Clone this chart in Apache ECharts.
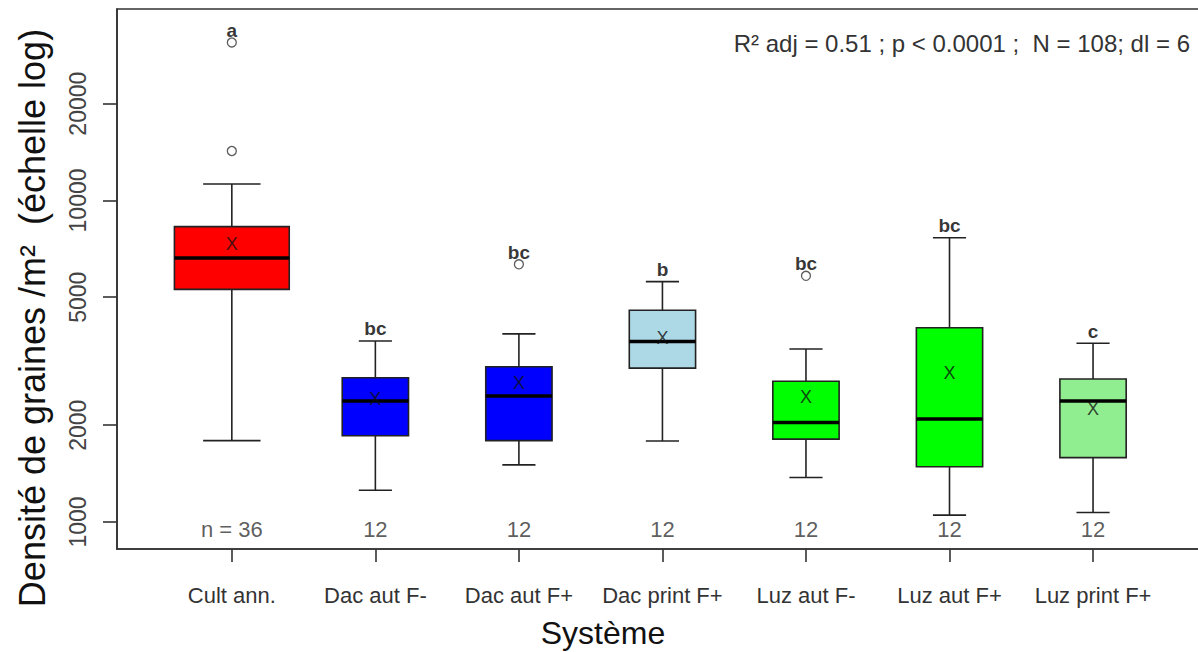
<!DOCTYPE html>
<html>
<head>
<meta charset="utf-8">
<title>Densité de graines</title>
<script src="https://cdn.jsdelivr.net/npm/echarts@6/dist/echarts.min.js"></script>
<style>
  html, body { margin: 0; padding: 0; background: #fff; }
  #chart { width: 1198px; height: 652px; }
</style>
</head>
<body>
<div id="chart"></div>
<script>
// categories and box statistics (seeds / m²)
const categories = ['Cult ann.', 'Dac aut F-', 'Dac aut F+', 'Dac print F+', 'Luz aut F-', 'Luz aut F+', 'Luz print F+'];
const nCounts = [36, 12, 12, 12, 12, 12, 12];
const whiskerLow = [1790, 1255, 1505, 1785, 1375, 1050, 1070];
const q1Values = [5290, 1855, 1790, 3010, 1810, 1485, 1585];
const medianValues = [6625, 2380, 2465, 3640, 2040, 2090, 2380];
const q3Values = [8290, 2810, 3040, 4555, 2740, 4020, 2785];
const whiskerHigh = [11250, 3655, 3845, 5590, 3450, 7660, 3595];
const meanValues = [7320, 2415, 2700, 3730, 2455, 2915, 2240];
// outliers: [group (1-based), value]
const outliers = [[1, 31000], [1, 14250], [3, 6330], [5, 5830]];
const letters = ['a', 'bc', 'bc', 'b', 'bc', 'bc', 'c'];
const nLabels = ['n = 36', '12', '12', '12', '12', '12', '12'];
const yTicks = [1000, 2000, 5000, 10000, 20000];

const boxColors = ['#ff0000', '#0000ff', '#0000ff', '#add8e6', '#00ff00', '#00ff00', '#90ee90'];
const lineColor = '#222';
const FONT = '"Liberation Sans", Arial, sans-serif';

const maxN = Math.max.apply(null, nCounts);
const boxData = categories.map((c, i) => [
  i + 1, whiskerLow[i], q1Values[i], medianValues[i], q3Values[i], whiskerHigh[i],
  0.8 * Math.sqrt(nCounts[i] / maxN) // varwidth like R
]);
const meanData = meanValues.map((v, i) => [i + 1, v]);
const letterData = categories.map((c, i) => {
  let top = whiskerHigh[i];
  outliers.forEach(o => { if (o[0] === i + 1 && o[1] > top) top = o[1]; });
  return [i + 1, top];
});
const nData = categories.map((c, i) => [i + 1, 950]);

const myChart = echarts.init(document.getElementById('chart'), null, { renderer: 'svg' });

function renderBox(params, api) {
  const x = api.value(0);
  const bw = api.value(6);
  const lo = api.coord([x, api.value(1)]);
  const b1 = api.coord([x, api.value(2)]);
  const md = api.coord([x, api.value(3)]);
  const b3 = api.coord([x, api.value(4)]);
  const hi = api.coord([x, api.value(5)]);
  const w = api.coord([x + bw / 2, api.value(3)])[0] - api.coord([x - bw / 2, api.value(3)])[0];
  const cx = md[0];
  const ls = { stroke: lineColor, lineWidth: 1.6 };
  return {
    type: 'group',
    children: [
      { type: 'line', shape: { x1: cx, y1: hi[1], x2: cx, y2: b3[1] }, style: ls },
      { type: 'line', shape: { x1: cx, y1: b1[1], x2: cx, y2: lo[1] }, style: ls },
      { type: 'line', shape: { x1: cx - w / 4, y1: hi[1], x2: cx + w / 4, y2: hi[1] }, style: ls },
      { type: 'line', shape: { x1: cx - w / 4, y1: lo[1], x2: cx + w / 4, y2: lo[1] }, style: ls },
      {
        type: 'rect',
        shape: { x: cx - w / 2, y: b3[1], width: w, height: b1[1] - b3[1] },
        style: { fill: boxColors[params.dataIndex], stroke: lineColor, lineWidth: 1.6 }
      },
      { type: 'line', shape: { x1: cx - w / 2, y1: md[1], x2: cx + w / 2, y2: md[1] }, style: { stroke: '#000', lineWidth: 3.5 } }
    ]
  };
}

const option = {
  animation: false,
  grid: {
    left: 117,
    top: 9,
    width: 1088,
    height: 540,
    outerBoundsMode: 'none',
    containLabel: false,
    show: true,
    borderColor: '#333',
    borderWidth: 1.6
  },
  xAxis: {
    type: 'value',
    min: 0.2,
    max: 7.78,
    splitLine: { show: false },
    axisLine: { show: true, lineStyle: { color: '#333', width: 1.6 } },
    axisTick: { show: true, length: 13, lineStyle: { color: '#333', width: 1.6 }, customValues: [1, 2, 3, 4, 5, 6, 7] },
    axisLabel: {
      customValues: [1, 2, 3, 4, 5, 6, 7],
      formatter: v => categories[Math.round(v) - 1],
      margin: 35,
      fontSize: 22,
      color: '#333',
      fontFamily: FONT
    }
  },
  yAxis: {
    type: 'log',
    logBase: 10,
    min: 824,
    max: 39400,
    splitLine: { show: false },
    axisLine: { show: true, lineStyle: { color: '#333', width: 1.6 } },
    axisTick: { show: true, length: 14, lineStyle: { color: '#333', width: 1.6 }, customValues: yTicks },
    axisLabel: {
      customValues: yTicks,
      formatter: v => String(Math.round(v)),
      rotate: 90,
      margin: 28,
      fontSize: 23,
      color: '#444',
      fontFamily: FONT
    }
  },
  graphic: [
    {
      type: 'text', x: 32, y: 318, rotation: Math.PI / 2,
      style: { text: 'Densité de graines /m²  (échelle log)', font: '36px ' + FONT, fill: '#111', align: 'center', verticalAlign: 'middle' }
    },
    {
      type: 'text', x: 603, y: 633,
      style: { text: 'Système', font: '32px ' + FONT, fill: '#111', align: 'center', verticalAlign: 'middle' }
    },
    {
      type: 'text', x: 1190, y: 43,
      style: { text: 'R² adj = 0.51 ; p < 0.0001 ;  N = 108; dl = 6', font: '24px ' + FONT, fill: '#333', align: 'right', verticalAlign: 'middle' }
    }
  ],
  series: [
    {
      type: 'custom',
      renderItem: renderBox,
      encode: { x: 0, y: [1, 2, 3, 4, 5] },
      data: boxData,
      clip: false,
      z: 2
    },
    {
      type: 'scatter',
      data: outliers,
      symbol: 'circle',
      symbolSize: 9,
      itemStyle: { color: '#fff', borderColor: '#333', borderWidth: 1.3 },
      z: 3
    },
    {
      type: 'scatter',
      data: meanData,
      symbolSize: 1,
      itemStyle: { color: 'rgba(0,0,0,0)' },
      label: { show: true, position: 'inside', formatter: 'X', fontSize: 18, color: '#111', fontFamily: FONT },
      z: 4
    },
    {
      type: 'scatter',
      data: letterData,
      symbolSize: 1,
      itemStyle: { color: 'rgba(0,0,0,0)' },
      label: {
        show: true, position: 'top', distance: 2,
        formatter: p => letters[p.dataIndex],
        fontSize: 19, fontWeight: 'bold', color: '#000', fontFamily: FONT
      },
      z: 5
    },
    {
      type: 'scatter',
      data: nData,
      symbolSize: 1,
      itemStyle: { color: 'rgba(0,0,0,0)' },
      label: {
        show: true, position: 'inside',
        formatter: p => nLabels[p.dataIndex],
        fontSize: 22, color: '#333', fontFamily: FONT
      },
      z: 5
    }
  ]
};

myChart.setOption(option);
</script>
</body>
</html>
